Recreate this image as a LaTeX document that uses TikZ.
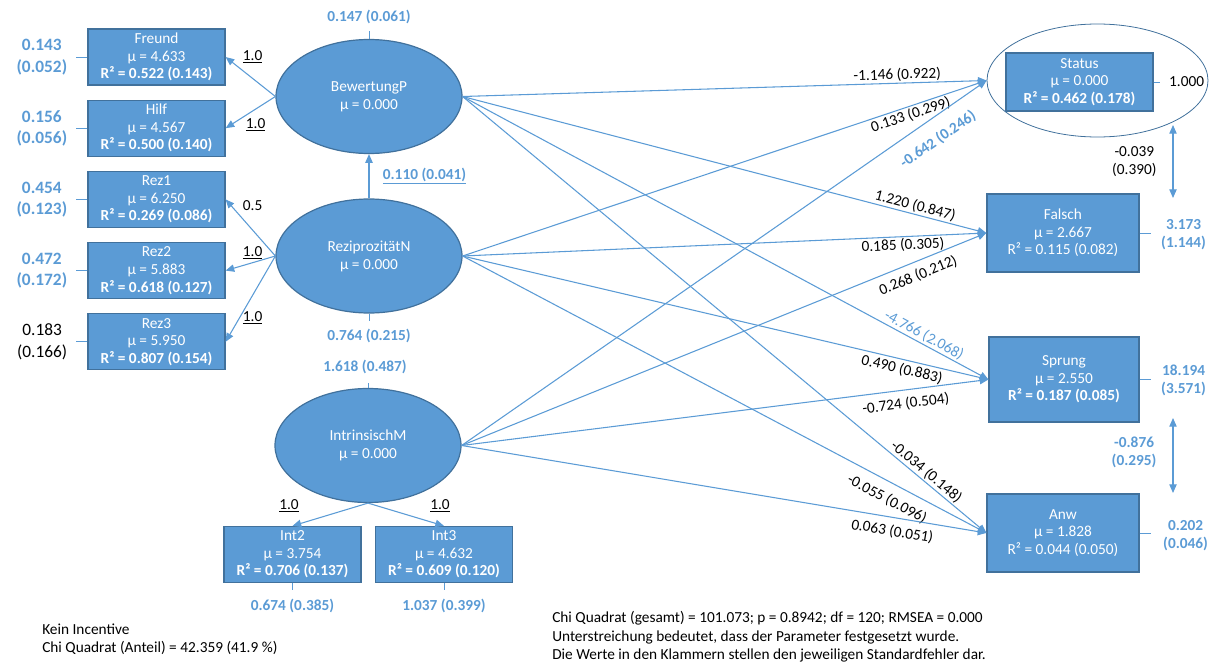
\documentclass[tikz,border=0pt]{standalone}
\usepackage{fontspec}
\setmainfont{Carlito}
\usepackage{xcolor}
\usetikzlibrary{positioning}
\usetikzlibrary{calc}
\usetikzlibrary{shapes.geometric}
\usetikzlibrary{arrows.meta}
\definecolor{myblue}{RGB}{91,155,213}
\definecolor{myframe}{RGB}{65,113,156}

\tikzset{
    lat/.style={ellipse, draw=myframe, line width=0.9pt, fill=myblue, text=white, align=center,
            inner sep=0pt, minimum width=139.5pt, minimum height=85.5pt, font=\fontsize{11.5}{13.5}\selectfont},
    obs/.style={rectangle, draw=myframe, line width=0.9pt, fill=myblue, text=white, align=center,
            inner sep=0pt, minimum width=102.75pt, minimum height=42pt, font=\fontsize{11.5}{13.2}\selectfont},
    reg/.style={draw=myblue, line width=0.8pt, -{Triangle[length=6.5pt,width=5.5pt]}},
    cov/.style={draw=myblue, line width=0.8pt, {Triangle[length=6.5pt,width=5.5pt]}-{Triangle[length=6.5pt,width=5.5pt]}},
    errtick/.style={draw=myblue, line width=0.6pt},
    est/.style={inner sep=1pt, align=center, font=\fontsize{11.5}{13.5}\selectfont},
    sig/.style={est, text=myblue, font=\fontsize{11.5}{13.5}\selectfont\bfseries},
    errvar/.style={align=center, inner sep=0pt, text=myblue, font=\fontsize{13}{16}\selectfont\bfseries},
    note/.style={align=left, inner sep=0pt, font=\fontsize{11.5}{13.5}\selectfont},
}

\begin{document}
\begin{tikzpicture}[x=0.75pt,y=-0.75pt]
    \useasboundingbox (0,0) rectangle (1215,664);

    %L: BewertungP
    \node[lat] (bp) at (369,96.5) {BewertungP\\µ = 0.000};
    \draw[errtick] (bp.north) -- ++(0,-8);
    \node[sig] (bpvar) at ([shift={(0,-21.5)}]bp.north) {0.147 (0.061)};

    \node[obs] (freund) at (156.5,57) {Freund\\µ = 4.633\\\textbf{R² = 0.522 (0.143)}};
    \node[obs, below=10.5pt of freund] (hilf) {Hilf\\µ = 4.567\\\textbf{R² = 0.500 (0.140)}};

    \node[errvar, left=15pt of freund] (freundvar) {0.143\\(0.052)};
    \node[errvar, left=15pt of hilf] (hilfvar) {0.156\\(0.056)};
    \draw[errtick] (freund.west) -- ++(-11,0);
    \draw[errtick] (hilf.west) -- ++(-11,0);

    \node[est] (lfreund) at ([shift={(27,0)}]freund.east) {\underline{1.0}};
    \node[est] (lhilf) at ([shift={(30,-3.5)}]hilf.east) {\underline{1.0}};

    % ------------------

    %L: ReziprozitaetN
    \node[lat] (rn) at (369,256) {ReziprozitätN\\µ = 0.000};
    \draw[errtick] (rn.south) -- ++(0,7);
    \node[sig] (rnvar) at ([shift={(0,22)}]rn.south) {0.764 (0.215)};

    \node[obs, below=10.5pt of hilf] (rez1) {Rez1\\µ = 6.250\\\textbf{R² = 0.269 (0.086)}};
    \node[obs, below=10.5pt of rez1] (rez2) {Rez2\\µ = 5.883\\\textbf{R² = 0.618 (0.127)}};
    \node[obs, below=10.5pt of rez2] (rez3) {Rez3\\µ = 5.950\\\textbf{R² = 0.807 (0.154)}};

    \node[errvar, left=15pt of rez1] (rez1var) {0.454\\(0.123)};
    \node[errvar, left=15pt of rez2] (rez2var) {0.472\\(0.172)};
    \node[errvar, left=15pt of rez3, text=black, font=\fontsize{13}{16}\selectfont] (rez3var) {0.183\\(0.166)};
    \draw[errtick] (rez1.west) -- ++(-11,0);
    \draw[errtick] (rez2.west) -- ++(-11,0);
    \draw[errtick] (rez3.west) -- ++(-11,0);

    \node[est] (lrez1) at ([shift={(27,6)}]rez1.east) {0.5};
    \node[est] (lrez2) at ([shift={(27,-17.5)}]rez2.east) {\underline{1.0}};
    \node[est] (lrez3) at ([shift={(27,-24)}]rez3.east) {\underline{1.0}};

    % ------------------

    %L: IntrinsischM
    \node[lat] (im) at (368,445.5) {IntrinsischM\\µ = 0.000};
    \draw[errtick] (im.north) -- ++(0,-5);
    \node[sig] (imvar) at ([shift={(-3,-21)}]im.north) {1.618 (0.487)};

    \node[obs] (int2) at (292.5,554.5) {Int2\\µ = 3.754\\\textbf{R² = 0.706 (0.137)}};
    \node[obs] (int3) at (444,554.5) {Int3\\µ = 4.632\\\textbf{R² = 0.609 (0.120)}};
    \draw[errtick] (int2.south) -- ++(0,7);
    \draw[errtick] (int3.south) -- ++(0,7);
    \node[sig] (int2var) at ([shift={(0,23)}]int2.south) {0.674 (0.385)};
    \node[sig] (int3var) at ([shift={(0,23)}]int3.south) {1.037 (0.399)};

    \node[est] (lint2) at ([shift={(-3.5,-20)}]int2.north) {\underline{1.0}};
    \node[est] (lint3) at ([shift={(-4,-20)}]int3.north) {\underline{1.0}};

    % ------------------

    %Y: Status, Falsch, Sprung, Anw
    \node[lat, fill=white, line width=0.6pt, minimum width=165.75pt, minimum height=84.75pt] (stat) at (1097.5,80.5) {};
    \node[obs, minimum width=110.25pt, minimum height=43.5pt] (statbox) at (1079.5,82) {Status\\µ = 0.000\\\textbf{R² = 0.462 (0.178)}};
    \node[obs, minimum width=114pt, minimum height=58.5pt] (falsch) at (1063,233) {Falsch\\µ = 2.667\\R² = 0.115 (0.082)};
    \node[obs, minimum width=112.5pt, minimum height=63.75pt] (sprung) at (1064,379.5) {Sprung\\µ = 2.550\\\textbf{R² = 0.187 (0.085)}};
    \node[obs, minimum width=114pt, minimum height=58.5pt] (anw) at (1063,533) {Anw\\µ = 1.828\\R² = 0.044 (0.050)};

    \draw[errtick] (statbox.east) -- ++(6,0);
    \draw[errtick] (falsch.east) -- ++(11,0);
    \draw[errtick] (sprung.east) -- ++(11,0);
    \draw[errtick] (anw.east) -- ++(11,0);
    \node[est] (statvar) at ([shift={(33,0)}]statbox.east) {1.000};
    \node[sig] (falschvar) at ([shift={(44,2)}]falsch.east) {3.173\\(1.144)};
    \node[sig] (sprungvar) at ([shift={(44,0.5)}]sprung.east) {18.194\\(3.571)};
    \node[sig] (anwvar) at ([shift={(46,3)}]anw.east) {0.202\\(0.046)};

    % covariances
    \coordinate (sf1) at (1173,125);
    \coordinate (sf2) at (1173,198);
    \coordinate (sa1) at (1173,418);
    \coordinate (sa2) at (1173,493);
    \path (sf1) edge[cov] node[est, midway, left=11pt] (csf) {-0.039\\(0.390)} (sf2)
          (sa1) edge[cov] node[sig, midway, left=11pt, yshift=2pt] (csa) {-0.876\\(0.295)} (sa2);

    % loadings
    \path
    (bp.west) edge[reg] (freund.east)
    (bp.west) edge[reg] (hilf.east)
    (rn.west) edge[reg] (rez1.east)
    (rn.west) edge[reg] (rez2.east)
    (rn.west) edge[reg] (rez3.east)
    (im.south) edge[reg] (int2.north)
    (im.south) edge[reg] (int3.north)
    (rn.north) edge[reg] node[sig, pos=0.5, right=9pt] (lrnbp) {\underline{0.110 (0.041)}} (bp.south)
    ;

    % regressions
    \path
    (bp.east) edge[reg] node[est, sloped, pos=0.83, above] (pbs) {-1.146 (0.922)} (stat.west)
    (bp.east) edge[reg] node[est, sloped, pos=0.86, above] (pbf) {1.220 (0.847)} (falsch.west)
    (bp.east) edge[reg] node[est, text=myblue, sloped, pos=0.87, above] (pbsp) {-4.766 (2.068)} (sprung.west)
    (bp.east) edge[reg] node[est, sloped, pos=0.875, above] (pba) {-0.034 (0.148)} (anw.west)
    (rn.east) edge[reg] node[est, sloped, pos=0.85, below] (prs) {0.133 (0.299)} (stat.west)
    (rn.east) edge[reg] node[est, sloped, pos=0.84, below] (prf) {0.185 (0.305)} (falsch.west)
    (rn.east) edge[reg] node[est, sloped, pos=0.84, below=1pt] (prsp) {0.490 (0.883)} (sprung.west)
    (rn.east) edge[reg] node[est, sloped, pos=0.825, below=6pt] (pra) {-0.055 (0.096)} (anw.west)
    (im.east) edge[reg] node[sig, sloped, pos=0.885, below=9pt] (pis) {-0.642 (0.246)} (stat.west)
    (im.east) edge[reg] node[est, sloped, pos=0.86, below=4pt] (pif) {0.268 (0.212)} (falsch.west)
    (im.east) edge[reg] node[est, sloped, pos=0.84, below=4pt] (pisp) {-0.724 (0.504)} (sprung.west)
    (im.east) edge[reg] node[est, sloped, pos=0.825, below=4pt] (pia) {0.063 (0.051)} (anw.west)
    ;

    % notes
    \node[note, anchor=north west] (kein) at (42,624) {Kein Incentive\\Chi Quadrat (Anteil) = 42.359 (41.9 \%)};
    \node[note, anchor=north west, font=\fontsize{11.5}{13.9}\selectfont] (fit) at (552,611)
    {Chi Quadrat (gesamt) = 101.073; p = 0.8942; df = 120; RMSEA = 0.000\\
        Unterstreichung bedeutet, dass der Parameter festgesetzt wurde.\\
        Die Werte in den Klammern stellen den jeweiligen Standardfehler dar.};
\end{tikzpicture}
\end{document}
